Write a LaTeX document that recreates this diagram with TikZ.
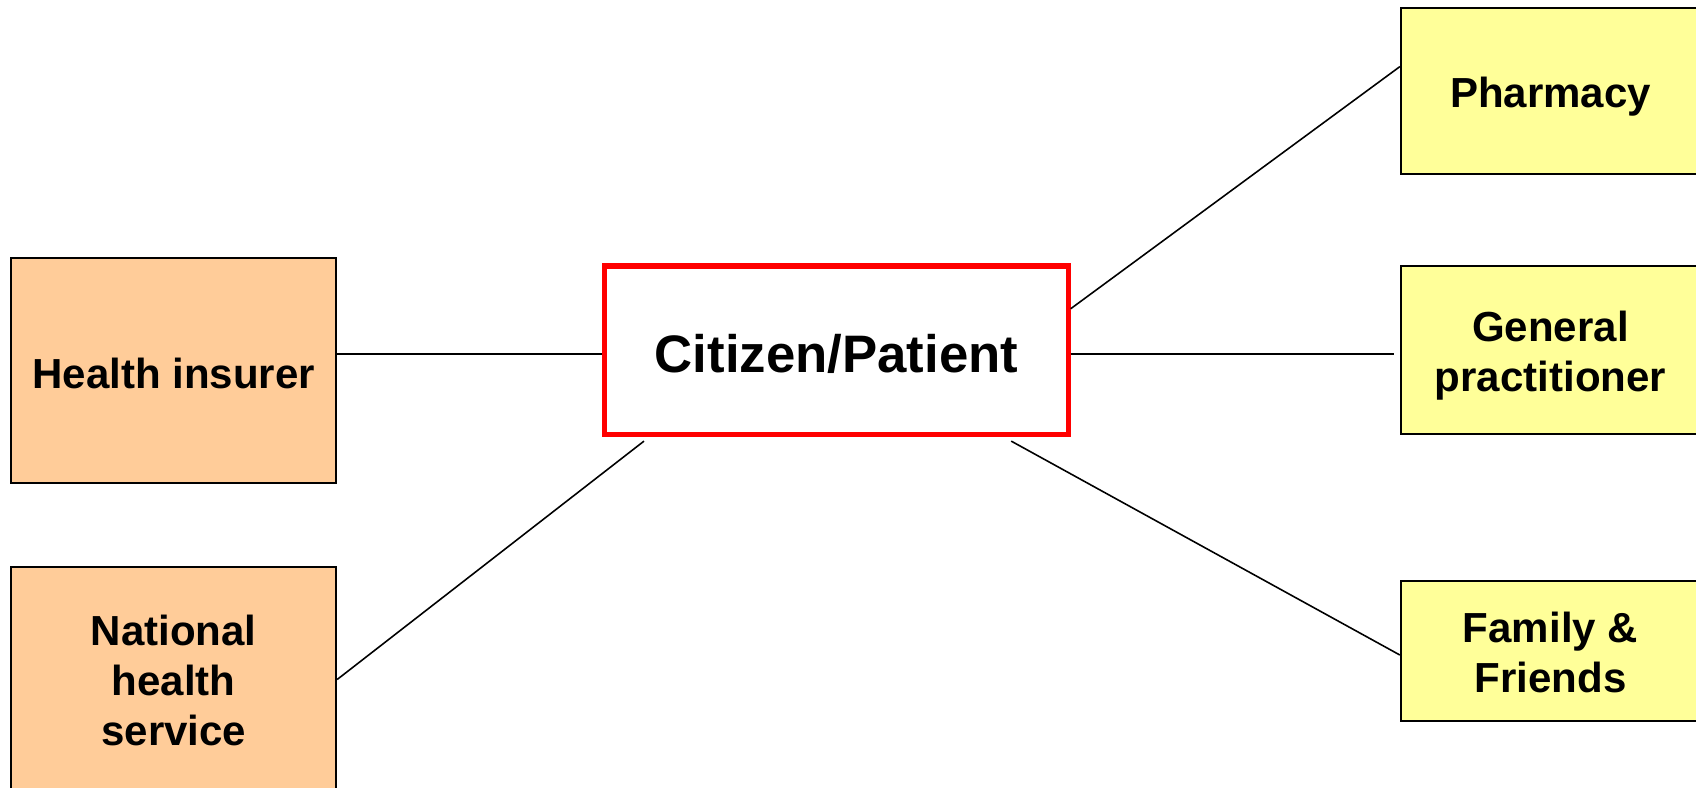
\documentclass[tikz,border=0pt]{standalone}
\usepackage{fontspec}
\setmainfont{Liberation Sans}
\usetikzlibrary{calc}
\definecolor{peach}{HTML}{FFCC99}
\definecolor{paleyellow}{HTML}{FFFF99}
\tikzset{
  box/.style={draw=black, line width=0.6pt, rectangle, inner sep=0pt},
  lab/.style={align=center, inner sep=0pt, font=\bfseries\fontsize{11.95}{14.2}\selectfont},
  biglab/.style={inner sep=0pt, font=\bfseries\fontsize{15}{18}\selectfont},
  leftbox/.style={box, fill=peach, minimum width=3.245cm, minimum height=2.25cm},
  rightbox/.style={box, fill=paleyellow, minimum width=2.99cm},
  centerbox/.style={draw=red, line width=1.45pt, fill=white, rectangle, inner sep=0pt,
    minimum width=4.63cm, minimum height=1.685cm},
  link/.style={draw=black, line width=0.45pt}
}
\begin{document}
\begin{tikzpicture}[x=0.01cm, y=-0.01cm]
\useasboundingbox (0,0) rectangle (1696,787);
\clip (0,0) rectangle (1696,787);
\fill[white] (0,0) rectangle (1696,787);
% nodes
\node[leftbox, label={[lab, yshift=-0.032cm]center:Health insurer}] (hi) at (173.75,370.5) {};
\node[leftbox, label={[lab, yshift=-0.01cm]center:National\\health\\service}] (nhs) at (173.75,679.5) {};
\node[centerbox, label={[biglab, yshift=-0.032cm]center:Citizen/Patient}] (cit) at (836.5,350.25) {};
\node[rightbox, minimum height=1.66cm, label={[lab, yshift=-0.054cm]center:Pharmacy}] (ph) at (1550.5,91) {};
\node[rightbox, minimum height=1.68cm, label={[lab, yshift=-0.06cm]center:General\\practitioner}] (gp) at (1550.5,350) {};
\node[rightbox, minimum height=1.40cm, label={[lab, yshift=-0.01cm]center:Family \&\\Friends}] (fam) at (1550.5,651) {};
% connection points
\coordinate (cw) at ($(cit.north west)!0.52!(cit.south west)$);
\coordinate (ce) at ($(cit.north east)!0.52!(cit.south east)$);
\coordinate (cne) at ($(cit.north east)!0.261!(cit.south east)$);
\coordinate (csw) at ($(cit.south west)!0.089!(cit.south east)+(0,4)$);
\coordinate (cse) at ($(cit.south west)!0.873!(cit.south east)+(0,4)$);
\coordinate (phw) at ($(ph.north west)!0.355!(ph.south west)$);
\coordinate (famw) at ($(fam.west)+(0,4)$);
% connectors
\draw[link] (hi.east |- cw) -- (cw);
\draw[link] (ce) -- ($(gp.west |- ce)+(-6,0)$);
\draw[link] (cne) -- (phw);
\draw[link] (csw) -- (nhs.east);
\draw[link] (cse) -- (famw);
\end{tikzpicture}
\end{document}
